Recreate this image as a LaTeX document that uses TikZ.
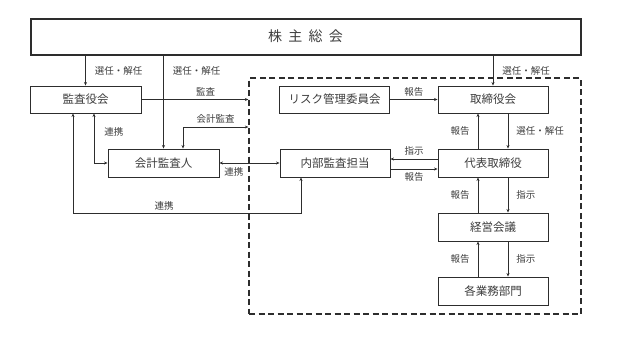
\documentclass[tikz,border=0pt]{standalone}
\usepackage{fontspec}
\setmainfont{Noto Sans CJK JP}
\usetikzlibrary{arrows.meta, positioning}
\definecolor{linegray}{RGB}{45,45,45}
\definecolor{textgray}{RGB}{60,60,60}

\tikzset{
  box/.style={draw=linegray, line width=0.9pt, minimum width=110pt, minimum height=27pt,
    inner sep=0pt, font=\fontsize{11.5}{13}\selectfont, text=textgray},
  lbl/.style={font=\fontsize{9.5}{11}\selectfont, text=textgray, inner sep=2pt},
  arr/.style={draw=linegray, line width=0.8pt, -{Stealth[length=3.5pt, width=3pt]}},
  arrb/.style={draw=linegray, line width=0.8pt, {Stealth[length=3.5pt, width=3pt]}-{Stealth[length=3.5pt, width=3pt]}}
}

\begin{document}
\begin{tikzpicture}[x=1pt, y=-1pt]
    \useasboundingbox (0,0) rectangle (624,351);
    % shareholders meeting
    \node[draw=linegray, line width=2pt, minimum width=550pt, minimum height=36pt,
      font=\fontsize{14}{16}\selectfont, text=textgray] (top) at (305.5,36.5)
      {株\hspace{0.45em}主\hspace{0.45em}総\hspace{0.45em}会};
    % dashed frame of the executing side
    \node[draw=linegray, line width=1.3pt, dash pattern=on 6pt off 3.5pt,
      minimum width=332pt, minimum height=236pt, inner sep=0pt] (inner) at (415,196) {};
    % boxes
    \node[box, minimum width=111pt] (kansa)  at (85.5,99.5)  {監査役会};
    \node[box, minimum width=111pt, minimum height=28pt] (kaikei) at (163.5,163) {会計監査人};
    \node[box] (risk)   at (334.5,99.5) {リスク管理委員会};
    \node[box] (board)  at (493,99.5)   {取締役会};
    \node[box, minimum height=28pt] (naibu)  at (335,163) {内部監査担当};
    \node[box, minimum height=28pt] (ceo)    at (493,163) {代表取締役};
    \node[box, minimum height=28pt] (keiei)  at (493,227) {経営会議};
    \node[box, minimum height=28pt] (bumon)  at (493,291) {各業務部門};
    % helper points
    \coordinate (kaikeiIn) at (inner.west |- 0,127);
    \coordinate (kansaL) at ([xshift=-12.5pt]kansa.south);
    \coordinate (kansaR) at ([xshift=8.5pt]kansa.south);
    \coordinate (naibuL) at ([xshift=-34pt]naibu.south);
    % from the shareholders meeting
    \draw[arr] (top.south -| kansa.north) -- (kansa.north)
      node[lbl, midway, right=7pt] {選任・解任};
    \draw[arr] (top.south -| kaikei.north) -- (kaikei.north)
      node[lbl, pos=0.17, right=7pt] {選任・解任};
    \draw[arr] (top.south -| board.north) -- (board.north)
      node[lbl, midway, right=7pt] {選任・解任};
    % audit side
    \draw[arr] (kansa.east) -- (inner.west |- kansa.east)
      node[lbl, pos=0.6, above=1pt] {監査};
    \draw[arrb] (kaikeiIn) -| ([xshift=19.5pt]kaikei.north)
      node[lbl, pos=0.25, above=1pt] {会計監査};
    \draw[arrb] (kansaR) |- (kaikei.west)
      node[lbl, pos=0.19, right=8pt] {連携};
    \draw[arrb] (kaikei.east) -- (naibu.west)
      node[lbl, pos=0.24, below=2pt] {連携};
    \draw[arrb] (kansaL) -- ++(0,100) -| (naibuL)
      node[lbl, pos=0.2, above=1pt] {連携};
    % executing side
    \draw[arr] (risk.east) -- (board.west)
      node[lbl, midway, above=1pt] {報告};
    \draw[arr] ([xshift=15pt]board.south) -- ([xshift=15pt]ceo.north)
      node[lbl, midway, right=6pt] {選任・解任};
    \draw[arr] ([xshift=-15pt]ceo.north) -- ([xshift=-15pt]board.south)
      node[lbl, midway, left=6pt] {報告};
    \draw[arr] ([yshift=4pt]ceo.west) -- ([yshift=4pt]naibu.east)
      node[lbl, midway, above=1pt] {指示};
    \draw[arr] ([yshift=-6pt]naibu.east) -- ([yshift=-6pt]ceo.west)
      node[lbl, midway, below=1pt] {報告};
    \draw[arr] ([xshift=-15pt]keiei.north) -- ([xshift=-15pt]ceo.south)
      node[lbl, midway, left=6pt] {報告};
    \draw[arr] ([xshift=15pt]ceo.south) -- ([xshift=15pt]keiei.north)
      node[lbl, midway, right=6pt] {指示};
    \draw[arr] ([xshift=-15pt]bumon.north) -- ([xshift=-15pt]keiei.south)
      node[lbl, midway, left=6pt] {報告};
    \draw[arr] ([xshift=15pt]keiei.south) -- ([xshift=15pt]bumon.north)
      node[lbl, midway, right=6pt] {指示};
  \end{tikzpicture}
\end{document}
